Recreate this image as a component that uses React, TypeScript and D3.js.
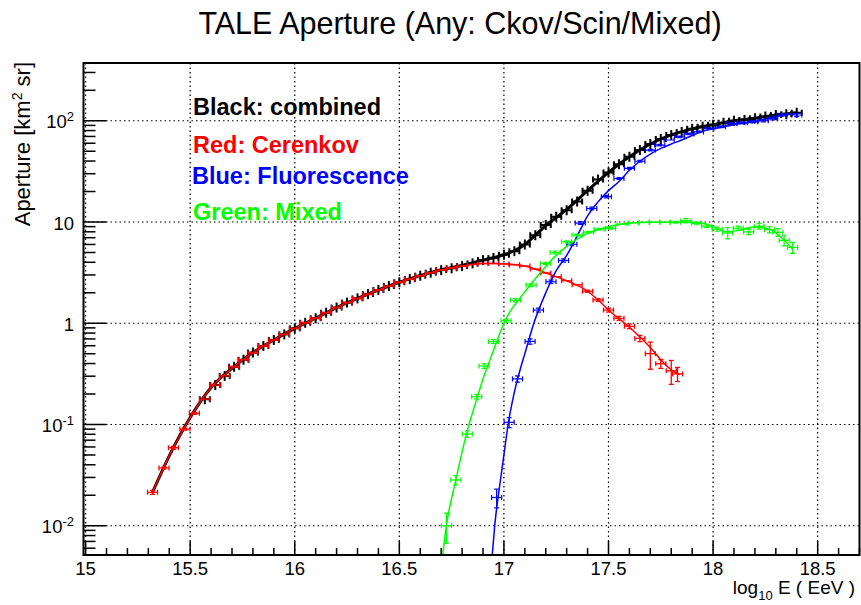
import React from "react";
import * as d3 from "d3";

const W = 861;
const H = 605;
const FONT = "'Liberation Sans', Arial, Helvetica, sans-serif";

// ---------- axis data ----------
const xDomain = [14.99, 18.7];
const yDomain = [0.00514, 372];
const xMajor = [15, 15.5, 16, 16.5, 17, 17.5, 18, 18.5];
const xMajorLabels = ["15", "15.5", "16", "16.5", "17", "17.5", "18", "18.5"];
const yMajor = [0.01, 0.1, 1, 10, 100];
const yMajorBase = ["10", "10", "1", "10", "10"];
const yMajorExp = ["-2", "-1", "", "", "2"];

// ---------- Cerenkov (red) ----------
const redX = [15.32, 15.375, 15.42, 15.475, 15.52, 15.57, 15.62, 15.665, 15.71, 15.755,
  15.8, 15.85, 15.9, 15.95, 16, 16.05, 16.1, 16.15, 16.2, 16.25, 16.3, 16.35, 16.4, 16.45,
  16.5, 16.55, 16.6, 16.65, 16.7, 16.75, 16.8, 16.85, 16.9, 16.95, 17, 17.05, 17.1, 17.15,
  17.2, 17.25, 17.3, 17.35, 17.4, 17.45, 17.5, 17.55, 17.6, 17.65, 17.7, 17.75, 17.8, 17.83];
const redY = [0.0214, 0.0372, 0.0589, 0.0902, 0.129, 0.178, 0.245, 0.302, 0.372, 0.437,
  0.513, 0.596, 0.684, 0.776, 0.891, 1.01, 1.12, 1.27, 1.43, 1.6, 1.76, 1.94, 2.13, 2.33,
  2.54, 2.73, 2.95, 3.16, 3.35, 3.51, 3.67, 3.8, 3.89, 3.91, 3.85, 3.78, 3.67, 3.43,
  3.14, 2.88, 2.63, 2.4, 2.07, 1.7, 1.35, 1.12, 0.933, 0.708, 0.501, 0.398, 0.339, 0.316];
const redErr = [0.001, 0.001, 0.002, 0.002, 0.003, 0.003, 0.004, 0.004, 0.005, 0.005,
  0.006, 0.006, 0.007, 0.008, 0.009, 0.01, 0.011, 0.012, 0.014, 0.015, 0.017, 0.019, 0.02, 0.022,
  0.024, 0.026, 0.028, 0.03, 0.032, 0.034, 0.036, 0.04, 0.04, 0.04, 0.04, 0.04, 0.04, 0.04,
  0.04, 0.04, 0.04, 0.04, 0.05, 0.05, 0.06, 0.05, 0.05, 0.05, 0.15, 0.04, 0.09, 0.05];
const redFitX = [15.32, 15.4, 15.5, 15.6, 15.7, 15.8, 15.9, 16.0, 16.1, 16.2, 16.3, 16.4, 16.5,
  16.6, 16.7, 16.8, 16.9, 17.0, 17.1, 17.2, 17.3, 17.4, 17.45, 17.5, 17.6, 17.7, 17.75, 17.8, 17.84];
const redFitY = [0.0214, 0.049, 0.117, 0.232, 0.359, 0.513, 0.684, 0.89, 1.12, 1.43, 1.76, 2.13, 2.54,
  2.95, 3.35, 3.67, 3.89, 3.87, 3.67, 3.14, 2.63, 2.07, 1.7, 1.35, 0.912, 0.575, 0.437, 0.347, 0.309];

// ---------- Combined (black) ----------
const blackX = [15.57, 15.62, 15.665, 15.71, 15.755,
  15.8, 15.85, 15.9, 15.95, 16, 16.05, 16.1, 16.15, 16.2, 16.25, 16.3, 16.35, 16.4, 16.45,
  16.5, 16.55, 16.6, 16.65, 16.7, 16.75, 16.8, 16.85, 16.9, 16.95, 17, 17.05, 17.1, 17.15,
  17.2, 17.25, 17.3, 17.35, 17.4, 17.45, 17.5, 17.55, 17.6, 17.65, 17.7, 17.75, 17.8, 17.85,
  17.9, 17.95, 18, 18.05, 18.1, 18.15, 18.2, 18.25, 18.3, 18.35, 18.4];
const blackY = [0.178, 0.245, 0.302, 0.372, 0.437,
  0.513, 0.596, 0.684, 0.776, 0.891, 1.01, 1.12, 1.27, 1.43, 1.6, 1.76, 1.94, 2.13, 2.33,
  2.54, 2.73, 2.95, 3.16, 3.35, 3.49, 3.67, 3.9, 4.2, 4.4, 4.75, 5.15, 6.0, 7.4,
  9.33, 11.3, 13.1, 15.9, 20.4, 26.3, 30.9, 37.2, 44.2, 51.3, 58.9, 66.1, 72.4, 77.6,
  83.2, 87.1, 91.2, 95.5, 100, 102, 106, 110, 114, 116, 120];
const blackFitX = [15.32, 15.4, 15.5, 15.6, 15.7, 15.8, 15.9, 16.0, 16.1, 16.2, 16.3, 16.4, 16.5,
  16.6, 16.7, 16.8, 16.9, 17.0, 17.05, 17.1, 17.15, 17.2, 17.3, 17.4, 17.5, 17.6, 17.7, 17.8,
  17.9, 18.0, 18.1, 18.2, 18.3, 18.4];
const blackFitY = [0.0214, 0.049, 0.117, 0.232, 0.359, 0.513, 0.684, 0.89, 1.12, 1.43, 1.76, 2.13, 2.54,
  2.95, 3.37, 3.72, 4.2, 4.75, 5.2, 6.0, 7.4, 9.2, 13.3, 20.4, 30.9, 44.2, 58.9, 72.4,
  83.2, 91.2, 100, 106, 114, 120];

// ---------- Fluorescence (blue) ----------
const blueX = [16.965, 17.025, 17.065, 17.125, 17.165, 17.225, 17.285, 17.325, 17.365, 17.42,
  17.49, 17.55, 17.6, 17.65, 17.7, 17.745, 17.79, 17.84, 17.885, 17.93, 17.98, 18.035, 18.09,
  18.14, 18.19, 18.24, 18.285, 18.33, 18.4];
const blueY = [0.019, 0.105, 0.282, 0.661, 1.35, 2.57, 4.17, 6.03, 9.77, 13.6,
  17.8, 26.9, 33.9, 39.8, 51.3, 57.5, 64.6, 69.2, 74.1, 77.6, 84.1, 87.1, 94.2,
  95.5, 97.7, 100, 105, 114, 114];
const blueErr = [0.004, 0.012, 0.02, 0.04, 0.06, 0.1, 0.15, 0.2, 0.3, 0.4,
  0.5, 0.6, 0.7, 0.8, 0.9, 1, 1, 1.2, 1.3, 1.5, 1.5, 1.8, 2,
  2, 2.5, 2.5, 3, 3, 4];
const blueFitX = [16.944, 16.956, 16.98, 17.0, 17.02, 17.05, 17.08, 17.1, 17.143, 17.2, 17.25, 17.3,
  17.35, 17.4, 17.45, 17.5, 17.55, 17.6, 17.65, 17.7, 17.75, 17.8, 17.85, 17.9, 17.95, 18.0,
  18.1, 18.2, 18.3, 18.38];
const blueFitY = [0.0051, 0.01, 0.0251, 0.0501, 0.1, 0.209, 0.363, 0.501, 1.0, 2.0, 3.31, 4.68,
  7.24, 11.5, 15.8, 20.4, 25.1, 32.4, 39.8, 46.8, 53.3, 58.9, 64.6, 71.6, 78.5, 83.2,
  91.2, 98.9, 110, 118];

// ---------- Mixed (green) ----------
const greenX = [16.725, 16.77, 16.825, 16.87, 16.905, 16.95, 17.01, 17.055, 17.13, 17.2, 17.245,
  17.3, 17.35, 17.405, 17.455, 17.51, 17.565, 17.62, 17.67, 17.72, 17.77, 17.82, 17.87, 17.92,
  17.97, 18.02, 18.07, 18.12, 18.17, 18.22, 18.27, 18.31, 18.34, 18.38];
const greenY = [0.01, 0.0283, 0.0805, 0.188, 0.378, 0.66, 1.06, 1.69, 2.38, 3.9, 5.0,
  6.38, 7.43, 7.94, 8.5, 8.65, 9.55, 9.8, 9.93, 9.93, 9.93, 9.93, 10.3, 9.7,
  9.1, 8.5, 7.8, 8.7, 8.0, 9.1, 8.4, 7.9, 6.6, 5.6];
const greenErr = [0.0033, 0.003, 0.006, 0.01, 0.02, 0.03, 0.04, 0.06, 0.08, 0.1, 0.15,
  0.15, 0.15, 0.15, 0.15, 0.15, 0.15, 0.15, 0.15, 0.15, 0.15, 0.2, 0.5, 0.3,
  0.3, 0.4, 1.0, 0.4, 0.5, 0.6, 0.6, 0.7, 0.8, 0.7];
const greenFitX = [16.707, 16.725, 16.77, 16.82, 16.87, 16.9, 16.95, 17.0, 17.05, 17.07, 17.1, 17.15,
  17.2, 17.25, 17.3, 17.35, 17.4, 17.5, 17.55, 17.6, 17.7, 17.8, 17.87, 17.95, 18.0, 18.06,
  18.12, 18.19, 18.25, 18.29, 18.33, 18.37, 18.38];
const greenFitY = [0.0051, 0.01, 0.0282, 0.0794, 0.178, 0.282, 0.537, 1.0, 1.51, 1.7, 2.04, 2.75,
  3.63, 4.68, 5.75, 6.76, 7.73, 8.97, 9.44, 9.77, 9.93, 9.93, 10.0, 9.7, 9.0, 8.04,
  8.22, 8.91, 8.71, 8.04, 6.92, 5.7, 5.37];

const legendTexts = ["Black: combined", "Red: Cerenkov", "Blue: Fluorescence", "Green: Mixed"];
const legendColors = ["#000000", "#ff0000", "#0000ff", "#00ff00"];

const X_ERR = 0.024;

export default function App() {
  const L = 83.5, R = 859.5, T = 63, B = 555;
  const x = d3.scaleLinear().domain(xDomain).range([L, R]);
  const y = d3.scaleLog().domain(yDomain).range([B, T]);

  const line = d3
    .line<[number, number]>()
    .x((d) => x(d[0]))
    .y((d) => y(d[1]))
    .curve(d3.curveMonotoneX);

  const fit = (xs: number[], ys: number[]) => line(xs.map((v, i) => [v, ys[i]] as [number, number])) || "";

  // minor ticks
  const xMinor = d3.range(150, 188).map((v) => v / 10).filter((v) => !xMajor.some((m) => Math.abs(m - v) < 1e-6));
  const yMinor: number[] = [];
  [0.001, 0.01, 0.1, 1, 10, 100].forEach((dec) => {
    for (let k = 2; k <= 9; k++) {
      const v = dec * k;
      if (v >= yDomain[0] && v <= yDomain[1]) yMinor.push(v);
    }
  });

  const renderPoints = (
    xs: number[], ys: number[], errs: number[] | null, color: string, sw: number, cap: number, plus: number, key: string
  ) =>
    xs.map((xv, i) => {
      const cx = x(xv);
      const cy = y(ys[i]);
      const xl = x(xv - X_ERR);
      const xr = x(xv + X_ERR);
      const e = errs ? errs[i] : 0;
      const yt = y(ys[i] + e);
      const yb = y(Math.max(ys[i] - e, 1e-4));
      const segs: JSX.Element[] = [];
      segs.push(<line key="h" x1={xl} x2={xr} y1={cy} y2={cy} />);
      segs.push(<line key="cl" x1={xl} x2={xl} y1={cy - cap} y2={cy + cap} />);
      segs.push(<line key="cr" x1={xr} x2={xr} y1={cy - cap} y2={cy + cap} />);
      if (Math.abs(yb - yt) > 1.5) {
        segs.push(<line key="v" x1={cx} x2={cx} y1={yt} y2={yb} />);
        segs.push(<line key="ct" x1={cx - cap} x2={cx + cap} y1={yt} y2={yt} />);
        segs.push(<line key="cb" x1={cx - cap} x2={cx + cap} y1={yb} y2={yb} />);
      }
      if (plus > 0) {
        segs.push(<line key="p" x1={cx} x2={cx} y1={cy - plus} y2={cy + plus} />);
      }
      return (
        <g key={key + i} stroke={color} strokeWidth={sw}>
          {segs}
        </g>
      );
    });

  return (
    <svg
      width={W}
      height={H}
      style={{ position: "absolute", left: 0, top: 0, background: "#fff" }}
      fontFamily={FONT}
    >
      <rect x={0} y={0} width={W} height={H} fill="#fff" />
      <defs>
        <clipPath id="frame">
          <rect x={L} y={T} width={R - L} height={B - T} />
        </clipPath>
      </defs>

      {/* Title */}
      <text x={460} y={34} textAnchor="middle" fontSize={30.5} fill="#000">
        TALE Aperture (Any: Ckov/Scin/Mixed)
      </text>

      {/* grid */}
      <g stroke="#000" strokeWidth={1.2} strokeDasharray="1.5,3">
        {xMajor.map((v) => (
          <line key={"gx" + v} x1={x(v)} x2={x(v)} y1={T} y2={B} />
        ))}
        {yMajor.map((v) => (
          <line key={"gy" + v} x1={L} x2={R} y1={y(v)} y2={y(v)} />
        ))}
      </g>

      {/* data */}
      <g clipPath="url(#frame)">
        <path d={fit(blackFitX, blackFitY)} fill="none" stroke="#000" strokeWidth={3} />
        {renderPoints(blackX, blackY, null, "#000", 2, 3, 5, "bk")}
        <path d={fit(redFitX, redFitY)} fill="none" stroke="#ff0000" strokeWidth={1.5} />
        {renderPoints(redX, redY, redErr, "#ff0000", 1.3, 2.5, 0, "rd")}
        <path d={fit(blueFitX, blueFitY)} fill="none" stroke="#0000ff" strokeWidth={1.5} />
        {renderPoints(blueX, blueY, blueErr, "#0000ff", 1.2, 2.5, 0, "bl")}
        <path d={fit(greenFitX, greenFitY)} fill="none" stroke="#00ff00" strokeWidth={1.5} />
        {renderPoints(greenX, greenY, greenErr, "#00ff00", 1.2, 2.5, 0, "gr")}
      </g>

      {/* frame */}
      <rect x={L} y={T} width={R - L} height={B - T} fill="none" stroke="#000" strokeWidth={2} />

      {/* ticks */}
      <g stroke="#000" strokeWidth={1.5}>
        {xMajor.map((v) => (
          <line key={"xt" + v} x1={x(v)} x2={x(v)} y1={B} y2={B - 14} />
        ))}
        {xMinor.map((v) => (
          <line key={"xm" + v} x1={x(v)} x2={x(v)} y1={B} y2={B - 7} />
        ))}
        {yMajor.map((v) => (
          <line key={"yt" + v} x1={L} x2={L + 23} y1={y(v)} y2={y(v)} />
        ))}
        {yMinor.map((v) => (
          <line key={"ym" + v} x1={L} x2={L + 12} y1={y(v)} y2={y(v)} />
        ))}
      </g>

      {/* x tick labels */}
      <g fontSize={18.5} fill="#000" textAnchor="middle">
        {xMajor.map((v, i) => (
          <text key={"xl" + v} x={x(v)} y={575}>
            {xMajorLabels[i]}
          </text>
        ))}
      </g>

      {/* y tick labels */}
      <g fill="#000" textAnchor="end">
        {yMajor.map((v, i) => (
          <text key={"yl" + v} x={74} y={y(v) + 7.5} fontSize={18.5}>
            {yMajorBase[i]}
            {yMajorExp[i] ? (
              <tspan fontSize={13} dy={-7}>
                {yMajorExp[i]}
              </tspan>
            ) : null}
          </text>
        ))}
      </g>

      {/* axis titles */}
      <text x={855} y={594} textAnchor="end" fontSize={19} fill="#000">
        log<tspan fontSize={13} dy={6}>10</tspan>
        <tspan dy={-6}> E ( EeV )</tspan>
      </text>
      <text
        transform={`translate(30,62) rotate(-90)`}
        textAnchor="end"
        fontSize={22}
        fill="#000"
      >
        Aperture [km<tspan fontSize={14} dy={-8}>2</tspan>
        <tspan dy={8}> sr]</tspan>
      </text>

      {/* legend texts */}
      {legendTexts.map((t, i) => (
        <text
          key={t}
          x={[193, 193, 192, 193][i]}
          y={[115, 153, 184, 220][i]}
          fontSize={23.5}
          fontWeight="bold"
          fill={legendColors[i]}
        >
          {t}
        </text>
      ))}
    </svg>
  );
}
